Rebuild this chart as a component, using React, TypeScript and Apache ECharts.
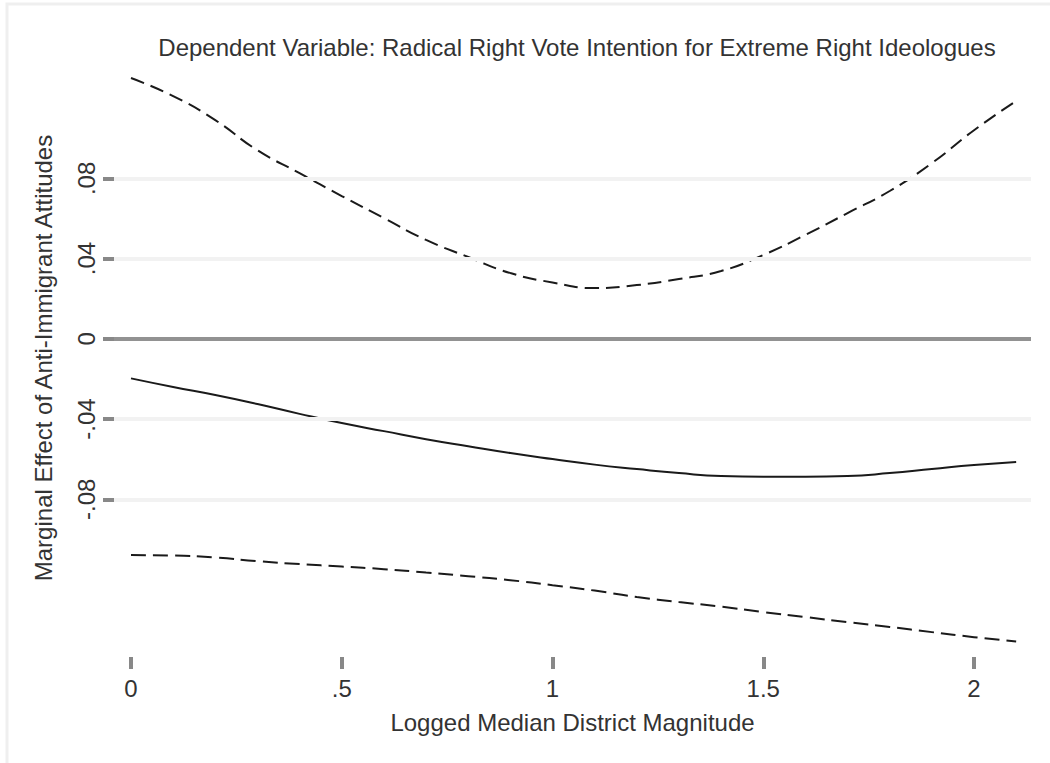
import React, { useEffect, useRef } from "react";
import * as echarts from "echarts";

// Logged median district magnitude (x values)
const xValues = [0, 0.1, 0.2, 0.3, 0.4, 0.5, 0.6, 0.7, 0.8, 0.9, 1.0, 1.1, 1.2, 1.3, 1.4, 1.5, 1.6, 1.7, 1.8, 1.9, 2.0, 2.1];
// Upper confidence bound
const upperCI = [0.130, 0.121, 0.109, 0.094, 0.0826, 0.0712, 0.0602, 0.0493, 0.0408, 0.0328, 0.0281, 0.0253, 0.0268, 0.0298, 0.0338, 0.0418, 0.0518, 0.0627, 0.0737, 0.0876, 0.104, 0.1186];
// Marginal effect
const effect = [-0.0197, -0.024, -0.028, -0.0325, -0.0374, -0.042, -0.046, -0.05, -0.0535, -0.0569, -0.0599, -0.0627, -0.0649, -0.0669, -0.0684, -0.0687, -0.0687, -0.0684, -0.0669, -0.0649, -0.0629, -0.0614];
// Lower confidence bound
const lowerCI = [-0.1078, -0.108, -0.109, -0.1108, -0.1123, -0.1135, -0.1148, -0.1165, -0.1183, -0.1203, -0.1228, -0.1255, -0.1287, -0.1312, -0.1335, -0.1362, -0.1387, -0.1412, -0.1436, -0.1462, -0.1487, -0.1509];

const xTicks = [0, 0.5, 1, 1.5, 2];
const xTickLabels = ["0", ".5", "1", "1.5", "2"];
const yTicks = [-0.08, -0.04, 0, 0.04, 0.08];
const yTickLabels = ["-.08", "-.04", "0", ".04", ".08"];

const titleText = "Dependent Variable: Radical Right Vote Intention for Extreme Right Ideologues";
const xTitle = "Logged Median District Magnitude";
const yTitle = "Marginal Effect of Anti-Immigrant Attitudes";

const FONT = "'Liberation Sans', Arial, Helvetica, sans-serif";
const TEXT = "#333";

function lookup(ticks: number[], labels: string[], v: number): string {
  for (let i = 0; i < ticks.length; i++) {
    if (Math.abs(ticks[i] - v) < 1e-9) return labels[i];
  }
  return "";
}

export default function App() {
  const ref = useRef<HTMLDivElement>(null);
  useEffect(() => {
    if (!ref.current) return;
    const chart = echarts.init(ref.current, undefined, { renderer: "svg" });
    const pair = (arr: number[]) => xValues.map((x, i) => [x, arr[i]]);
    chart.setOption({
      animation: false,
      backgroundColor: "#fff",
      title: {
        text: titleText,
        left: 572,
        top: 30,
        textAlign: "center",
        textStyle: { fontFamily: FONT, fontSize: 24, fontWeight: "normal", color: TEXT },
      },
      graphic: [
        {
          type: "polyline",
          shape: { points: [[7, 763], [7, 4], [1050, 4]] },
          style: { stroke: "#efefef", lineWidth: 3, fill: "none" },
          silent: true,
        },
      ],
      grid: { left: 114, right: 19, top: 59, bottom: 106, containLabel: false },
      xAxis: {
        type: "value",
        min: -0.0403,
        max: 2.1352,
        axisLine: { show: false, onZero: false },
        splitLine: { show: false },
        axisTick: { show: true, customValues: xTicks, length: 12, lineStyle: { color: "#888", width: 4 } },
        axisLabel: {
          customValues: xTicks,
          formatter: (v: number) => lookup(xTicks, xTickLabels, v),
          fontFamily: FONT,
          fontSize: 24,
          color: TEXT,
          margin: 19,
        },
        name: xTitle,
        nameLocation: "middle",
        nameGap: 53,
        nameTextStyle: { fontFamily: FONT, fontSize: 24, color: TEXT },
      },
      yAxis: {
        type: "value",
        min: -0.1586,
        max: 0.1395,
        axisLine: { show: false, onZero: false },
        splitLine: { show: false },
        axisTick: { show: true, customValues: yTicks, length: 11, lineStyle: { color: "#888", width: 4 } },
        axisLabel: {
          customValues: yTicks,
          formatter: (v: number) => lookup(yTicks, yTickLabels, v),
          rotate: 90,
          fontFamily: FONT,
          fontSize: 24,
          color: TEXT,
          margin: 16,
        },
        name: yTitle,
        nameLocation: "middle",
        nameGap: 59,
        nameTextStyle: { fontFamily: FONT, fontSize: 24, color: TEXT },
      },
      series: [
        {
          name: "grid",
          type: "line",
          data: [],
          z: 1,
          silent: true,
          markLine: {
            silent: true,
            symbol: ["none", "none"],
            label: { show: false },
            lineStyle: { color: "#f2f2f2", width: 4, type: "solid" },
            data: yTicks.filter((t) => t !== 0).map((t) => ({ yAxis: t })),
          },
        },
        {
          name: "zero",
          type: "line",
          data: [],
          z: 2,
          silent: true,
          markLine: {
            silent: true,
            symbol: ["none", "none"],
            label: { show: false },
            lineStyle: { color: "#929292", width: 4, type: "solid" },
            data: [{ yAxis: 0 }],
          },
        },
        {
          name: "upper",
          type: "line",
          data: pair(upperCI),
          smooth: true,
          showSymbol: false,
          z: 3,
          lineStyle: { color: "#1a1a1a", width: 2, type: [14, 7] },
        },
        {
          name: "effect",
          type: "line",
          data: pair(effect),
          smooth: true,
          showSymbol: false,
          z: 3,
          lineStyle: { color: "#1a1a1a", width: 2, type: "solid" },
        },
        {
          name: "lower",
          type: "line",
          data: pair(lowerCI),
          smooth: true,
          showSymbol: false,
          z: 3,
          lineStyle: { color: "#1a1a1a", width: 2, type: [15, 7] },
        },
      ],
    });
    return () => chart.dispose();
  }, []);
  return (
    <div
      ref={ref}
      style={{ position: "absolute", left: 0, top: 0, width: 1050, height: 763 }}
    />
  );
}
